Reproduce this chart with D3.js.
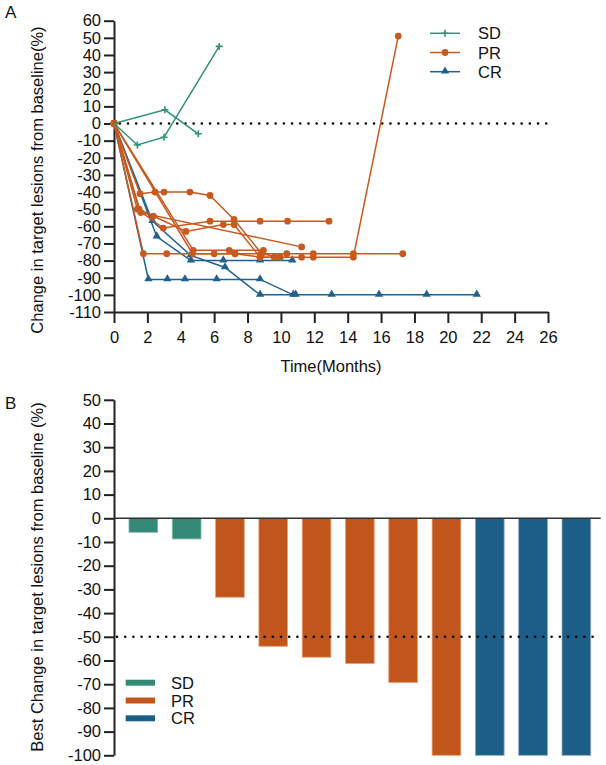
<!DOCTYPE html>
<html>
<head>
<meta charset="utf-8">
<script src="https://cdn.jsdelivr.net/npm/d3@7"></script>
<style>
  body { margin: 0; background: #fff; }
  svg text { font-family: Arial, "Liberation Sans", sans-serif; fill: #111; }
  .axis path, .axis line { stroke: #222; stroke-width: 2; }
  .axis text { font-size: 16.5px; font-family: Arial, "Liberation Sans", sans-serif; fill: #111; }
</style>
</head>
<body>
<script>
//Width and height
var w = 606;
var h = 765;

//Colours per response group
var groups = ["SD", "PR", "CR"];
var lineColors = { SD: "#2f917a", PR: "#c9591f", CR: "#1f6190" };
var barColors = { SD: "#358a77", PR: "#c0561c", CR: "#1d5e88" };
var barEdges = { SD: "#7fb8a8", PR: "#eba078", CR: "#86aac4" };

//Panel A: [months, % change] per patient
var sdLines = [
  [[0, 0], [1.4, -12.5], [3.0, -8], [6.3, 45]],
  [[0, 0], [3.05, 8], [5.05, -6]]
];
var prLines = [
  [[0, 0], [1.56, -41], [2.46, -40], [3.0, -40], [4.55, -40], [5.75, -42], [7.19, -56], [8.85, -76], [9.95, -78]],
  [[0, 0], [1.4, -50], [2.95, -61], [5.75, -57], [8.75, -57], [10.4, -57], [12.88, -57]],
  [[0, 0], [1.5, -50], [2.36, -54], [4.31, -63], [6.55, -59], [7.19, -59], [8.75, -78], [9.6, -78], [9.95, -78]],
  [[0, 0], [1.6, -52], [11.24, -72]],
  [[0, 0], [1.76, -76], [3.16, -76], [6.0, -76], [7.25, -76], [8.8, -76], [10.35, -76], [11.94, -76], [14.34, -76], [17.3, -76]],
  [[0, 0], [4.75, -74], [6.9, -74], [8.95, -74]],
  [[0, 0], [4.7, -76], [7.25, -76], [8.75, -78], [11.24, -78], [11.94, -78], [14.34, -78], [17.03, 51]]
];
var crLines = [
  [[0, 0], [2.56, -66], [4.61, -80], [6.55, -80], [8.75, -80], [10.68, -80]],
  [[0, 0], [2.06, -91], [3.2, -91], [4.25, -91], [6.15, -91], [8.75, -91], [10.74, -100], [13.04, -100], [15.88, -100], [18.73, -100], [21.73, -100]],
  [[0, 0], [2.3, -57], [4.6, -77], [6.65, -84], [8.75, -100], [10.88, -100]]
];

var monthTicks = d3.range(0, 27, 2);
var changeTicksA = d3.range(60, -111, -10);

//Panel B: best change per patient
var barGroups = ["SD", "SD", "PR", "PR", "PR", "PR", "PR", "PR", "CR", "CR", "CR"];
var bestChange = [-5.9, -8.7, -33.3, -54, -58.6, -61.3, -69.3, -100, -100, -100, -100];
var changeTicksB = d3.range(50, -101, -10);

//Plain hyphen minus, as in the figure
var plain = function (d) { return String(d); };

var svg = d3.select("body").append("svg").attr("width", w).attr("height", h);

// ---------------- Panel A ----------------
var xA = d3.scaleLinear().domain([0, 26]).range([114, 548]);
var yA = d3.scaleLinear().domain([60, -110]).range([20.7, 312]);

var xAxisA = d3.axisBottom(xA).tickValues(monthTicks).tickFormat(plain).tickSize(11).tickSizeOuter(0).tickPadding(8);
var yAxisA = d3.axisLeft(yA).tickValues(changeTicksA).tickFormat(plain).tickSize(10).tickSizeOuter(0).tickPadding(3);

svg.append("g").attr("class", "axis").attr("transform", "translate(0,312)").call(xAxisA);
svg.append("g").attr("class", "axis").attr("transform", "translate(114,0)").call(yAxisA);

//Dotted zero line
svg.append("line")
  .attr("x1", xA(0.35)).attr("x2", xA(26))
  .attr("y1", yA(0)).attr("y2", yA(0))
  .attr("stroke", "#000").attr("stroke-width", 2.6)
  .attr("stroke-linecap", "round").attr("stroke-dasharray", "0,8.2");

var line = d3.line().x(function (d) { return xA(d[0]); }).y(function (d) { return yA(d[1]); });

function drawMarker(g, group, x, y) {
  var c = lineColors[group];
  if (group === "SD") {
    g.append("path").attr("d", "M" + (x - 3.5) + "," + y + "h7M" + x + "," + (y - 3.5) + "v7")
      .attr("stroke", c).attr("stroke-width", 1.6).attr("fill", "none");
  } else if (group === "PR") {
    g.append("circle").attr("cx", x).attr("cy", y).attr("r", 3.4).attr("fill", c);
  } else {
    g.append("path").attr("d", d3.symbol(d3.symbolTriangle, 30)()).attr("transform", "translate(" + x + "," + (y - 0.5) + ")").attr("fill", c);
  }
}

function drawSeries(lines, group) {
  var g = svg.append("g");
  lines.forEach(function (pts) {
    g.append("path").datum(pts).attr("d", line)
      .attr("fill", "none").attr("stroke", lineColors[group]).attr("stroke-width", 1.5);
    pts.forEach(function (p, i) {
      if (i === 0 && group !== "PR") return;
      drawMarker(g, group, xA(p[0]), yA(p[1]));
    });
  });
}
drawSeries(crLines, "CR");
drawSeries(prLines, "PR");
drawSeries(sdLines, "SD");

//Legend A
groups.forEach(function (gname, i) {
  var ly = 33.3 + i * 19.2;
  var lg = svg.append("g");
  lg.append("line").attr("x1", 430).attr("x2", 460).attr("y1", ly).attr("y2", ly)
    .attr("stroke", lineColors[gname]).attr("stroke-width", 1.5);
  drawMarker(lg, gname, 445, ly);
  lg.append("text").attr("x", 478).attr("y", ly + 6).attr("font-size", 16.5).text(gname);
});

svg.append("text").attr("x", xA(13)).attr("y", 372).attr("text-anchor", "middle")
  .attr("font-size", 16.5).text("Time(Months)");
svg.append("text").attr("transform", "translate(43," + 180 + ") rotate(-90)")
  .attr("text-anchor", "middle").attr("font-size", 16.5)
  .text("Change in target lesions from baseline(%)");
svg.append("text").attr("x", 5).attr("y", 18).attr("font-size", 17).text("A");

// ---------------- Panel B ----------------
var xB = d3.scaleBand().domain(d3.range(bestChange.length)).range([114, 605.7])
  .paddingInner(0.337).paddingOuter(0.346);
var yB = d3.scaleLinear().domain([50, -100]).range([399.8, 755.3]);

var yAxisB = d3.axisLeft(yB).tickValues(changeTicksB).tickFormat(plain).tickSize(10).tickSizeOuter(0).tickPadding(3);
svg.append("g").attr("class", "axis").attr("transform", "translate(114,0)").call(yAxisB);

svg.append("g").selectAll("rect").data(bestChange).enter().append("rect")
  .attr("x", function (d, i) { return xB(i); })
  .attr("y", yB(0))
  .attr("width", xB.bandwidth())
  .attr("height", function (d) { return yB(d) - yB(0); })
  .attr("fill", function (d, i) { return barColors[barGroups[i]]; })
  .attr("stroke", function (d, i) { return barEdges[barGroups[i]]; })
  .attr("stroke-width", 0.8);

//Zero baseline
svg.append("line").attr("x1", 114).attr("x2", 600.7).attr("y1", yB(0)).attr("y2", yB(0))
  .attr("stroke", "#333").attr("stroke-width", 1.6);

//Dotted -50 line
svg.append("line").attr("x1", 117).attr("x2", 600).attr("y1", yB(-50)).attr("y2", yB(-50))
  .attr("stroke", "#000").attr("stroke-width", 2.6)
  .attr("stroke-linecap", "round").attr("stroke-dasharray", "0,8.2");

//Legend B
groups.forEach(function (gname, i) {
  var ly = 682.7 + i * 17.8;
  svg.append("rect").attr("x", 125.7).attr("y", ly - 3).attr("width", 29.3).attr("height", 6)
    .attr("fill", barColors[gname]);
  svg.append("text").attr("x", 171).attr("y", ly + 6).attr("font-size", 16.5).text(gname);
});

svg.append("text").attr("transform", "translate(43," + 577 + ") rotate(-90)")
  .attr("text-anchor", "middle").attr("font-size", 16.5)
  .text("Best Change in target lesions from baseline (%)");
svg.append("text").attr("x", 5).attr("y", 409).attr("font-size", 17).text("B");
</script>
</body>
</html>
